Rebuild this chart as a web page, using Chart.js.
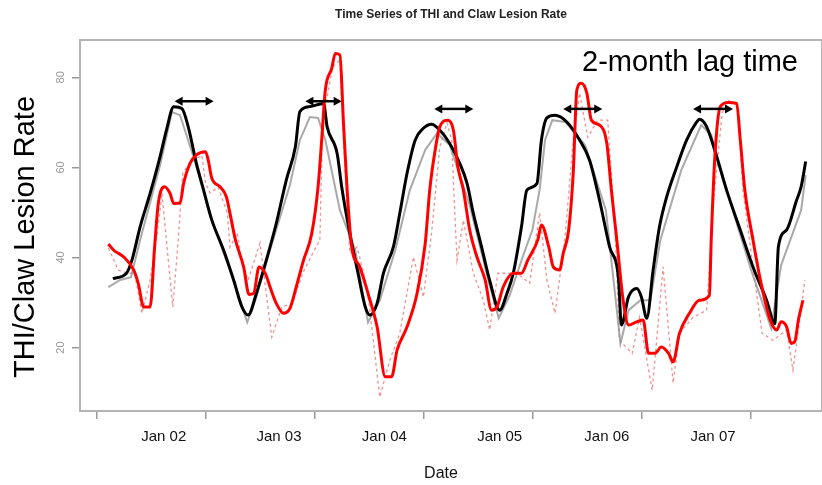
<!DOCTYPE html>
<html>
<head>
<meta charset="utf-8">
<script src="https://cdn.jsdelivr.net/npm/chart.js@4.4.1/dist/chart.umd.min.js"></script>
<style>
html,body{margin:0;padding:0;background:#fff;}
#wrap{width:822px;height:485px;}
</style>
</head>
<body>
<div id="wrap"><canvas id="graf-thi" width="822" height="485"></canvas></div>
<script>
// eixo x em meses (0 = primeira marca do eixo)
var ticksMeses = [0, 12, 24, 36, 48, 60, 72]
var posRotulos = [7.4, 20.1, 31.7, 44.4, 56.2, 67.9]
var rotulosDatas = ['Jan 02', 'Jan 03', 'Jan 04', 'Jan 05', 'Jan 06', 'Jan 07']
var ticksY = [20, 40, 60, 80]

// THI suavizado (linha preta)
var mesesTHI = [
    1.8, 3.3, 3.9, 4.8, 5.9, 7.0, 7.7, 8.5, 9.4, 10.1,
    11.0, 11.8, 12.7, 14.0, 15.1, 16.0, 16.7, 17.6, 18.7, 19.8,
    20.9, 21.9, 22.4, 23.5, 25.0, 25.4, 26.5, 27.0, 27.9, 28.8,
    29.6, 30.1, 30.9, 31.6, 32.7, 33.4, 34.2, 35.1, 36.0, 36.9,
    37.8, 38.9, 40.0, 40.8, 41.5, 42.4, 43.3, 44.4, 45.2, 45.9,
    46.8, 47.4, 48.5, 49.0, 49.6, 50.5, 51.8, 53.2, 54.3, 55.4,
    56.5, 57.5, 57.8, 58.6, 59.5, 60.0, 60.6, 61.3, 62.0, 62.8,
    63.9, 65.0, 66.1, 66.4, 67.2, 68.3, 69.4, 70.9, 72.3, 73.8,
    74.7, 75.1, 76.0, 77.1, 77.6, 78.1
]
var thiSuavizado = [
    35.3, 36.5, 39.4, 46.8, 54.2, 62.4, 68.3, 73.5, 73.1, 69.0,
    60.9, 54.9, 48.3, 41.6, 35.0, 29.1, 27.2, 32.0, 39.4, 47.6,
    57.2, 64.6, 72.4, 73.5, 74.2, 69.0, 63.1, 55.7, 45.3, 36.5,
    29.0, 27.2, 29.8, 36.5, 42.4, 49.8, 58.7, 66.1, 68.7, 69.6,
    68.3, 65.3, 60.9, 56.5, 49.8, 42.4, 34.9, 28.3, 32.0, 36.5,
    46.8, 55.0, 56.4, 66.1, 71.0, 71.6, 70.1, 66.1, 61.6, 52.7,
    42.4, 35.0, 25.0, 31.3, 33.1, 31.3, 26.5, 37.2, 46.8, 53.5,
    60.1, 66.1, 70.1, 70.7, 69.0, 62.4, 54.9, 46.1, 37.9, 30.5,
    25.3, 42.4, 46.1, 52.7, 55.7, 61.3
]

// THI bruto (linha cinza)
var mesesCinza = [
    1.3, 2.6, 3.8, 4.8, 7.0, 8.3, 9.2, 10.8, 12.5, 14.7,
    16.6, 17.5, 19.1, 21.3, 22.4, 23.5, 24.4, 25.2, 26.8, 28.5,
    29.9, 31.2, 32.9, 34.5, 36.2, 37.5, 38.9, 41.1, 43.3, 44.3,
    45.5, 47.0, 48.0, 48.8, 49.4, 50.2, 51.6, 53.8, 56.1, 57.7,
    58.6, 59.9, 61.0, 62.1, 64.4, 66.6, 67.7, 69.9, 72.1, 74.3,
    75.4, 77.6, 78.1
]
var thiBruto = [
    33.4, 35.0, 35.6, 43.9, 60.5, 72.3, 71.6, 61.6, 49.4, 37.2,
    25.6, 30.5, 41.6, 56.1, 66.1, 71.2, 71.0, 66.1, 50.5, 41.6,
    25.6, 30.5, 41.6, 54.9, 63.9, 67.6, 65.0, 51.6, 33.8, 26.5,
    31.6, 40.5, 46.1, 55.0, 66.1, 70.5, 70.1, 65.0, 50.5, 20.9,
    28.3, 30.5, 30.5, 43.9, 59.4, 69.4, 67.2, 51.6, 37.2, 24.3,
    38.3, 50.5, 58.3
]

// taxa de lesao de casco suavizada (linha vermelha)
var mesesLesao = [
    1.3, 1.9, 3.0, 4.1, 4.6, 5.2, 5.9, 6.4, 6.8, 7.5,
    8.1, 8.5, 9.2, 9.6, 10.3, 11.0, 12.0, 12.3, 12.7, 13.6,
    14.3, 14.7, 15.3, 16.2, 16.8, 17.3, 17.9, 18.6, 19.1, 19.8,
    20.6, 21.3, 22.0, 22.8, 23.7, 24.4, 24.8, 25.2, 25.9, 26.3,
    26.8, 27.2, 27.6, 28.1, 29.0, 29.9, 30.9, 31.8, 32.5, 33.1,
    34.2, 35.3, 36.2, 36.7, 37.3, 37.8, 38.7, 39.3, 39.8, 40.4,
    41.1, 41.9, 42.8, 43.5, 44.1, 44.8, 45.9, 46.8, 47.5, 48.6,
    49.0, 49.8, 50.3, 51.0, 51.4, 52.0, 52.5, 52.9, 53.4, 54.0,
    54.5, 55.4, 56.2, 56.7, 57.3, 58.0, 58.6, 59.5, 60.2, 60.8,
    61.5, 62.2, 63.0, 63.5, 64.2, 65.3, 66.4, 67.5, 67.7, 68.1,
    68.7, 69.6, 70.5, 70.9, 71.4, 72.3, 73.2, 74.2, 74.9, 75.4,
    76.0, 76.5, 76.9, 77.3, 77.8
]
var lesaoSuavizada = [
    43.0, 41.6, 40.1, 37.2, 34.2, 29.0, 29.0, 42.4, 52.0, 55.7,
    54.2, 52.0, 52.1, 56.5, 60.9, 62.8, 63.5, 61.6, 57.6, 55.7,
    53.5, 49.8, 43.9, 37.9, 31.8, 32.0, 37.9, 36.4, 33.5, 29.8,
    27.6, 28.7, 33.5, 39.4, 45.3, 55.7, 66.1, 77.2, 82.0, 85.3,
    85.0, 69.8, 55.0, 42.4, 37.9, 32.0, 24.6, 13.5, 13.5, 19.4,
    24.6, 32.0, 43.1, 55.0, 63.9, 69.0, 70.5, 68.3, 60.1, 55.0,
    46.1, 40.1, 35.0, 28.3, 29.0, 33.5, 36.5, 36.5, 39.4, 43.9,
    47.2, 42.4, 37.9, 37.2, 40.9, 46.1, 58.7, 77.2, 78.7, 76.5,
    70.5, 69.4, 65.3, 55.0, 43.9, 30.5, 25.0, 25.7, 26.1, 18.7,
    18.7, 20.1, 18.7, 16.8, 23.1, 27.6, 30.5, 31.6, 43.9, 62.4,
    73.5, 74.4, 74.2, 66.1, 55.0, 43.9, 34.2, 26.1, 23.9, 25.7,
    24.6, 20.9, 21.3, 26.1, 30.5
]

// taxa de lesao bruta (pontilhada)
var mesesBruto = [
    1.3, 2.4, 3.4, 4.2, 5.0, 5.9, 6.7, 7.2, 8.4, 9.0,
    9.5, 10.3, 11.6, 12.0, 12.5, 13.4, 14.4, 14.7, 15.5, 16.1,
    16.7, 18.0, 19.3, 20.4, 21.6, 22.7, 23.8, 24.6, 24.9, 26.0,
    26.8, 27.4, 27.9, 28.7, 29.8, 31.2, 32.3, 33.4, 34.9, 36.0,
    36.9, 37.8, 38.6, 39.1, 39.7, 40.4, 41.5, 42.6, 43.3, 44.2,
    45.2, 46.3, 47.7, 48.8, 49.6, 50.5, 51.6, 52.5, 53.2, 54.1,
    55.2, 56.3, 57.1, 57.6, 59.0, 59.8, 61.2, 62.4, 63.5, 64.2,
    65.7, 67.2, 67.9, 68.9, 69.7, 70.6, 71.2, 72.3, 73.3, 74.5,
    76.0, 76.7, 77.4, 78.0
]
var lesaoBruta = [
    42.1, 37.2, 36.5, 36.5, 27.6, 35.0, 45.4, 54.3, 29.0, 43.9,
    58.8, 61.0, 62.7, 56.5, 54.3, 55.6, 49.9, 42.3, 45.4, 37.9,
    35.0, 43.2, 22.3, 29.0, 29.9, 36.5, 40.9, 43.9, 69.9, 82.3,
    83.9, 58.8, 41.0, 42.3, 33.4, 9.0, 17.2, 23.2, 40.1, 31.2,
    45.4, 64.5, 69.9, 66.1, 39.4, 48.3, 36.5, 30.5, 23.9, 36.5,
    36.5, 36.5, 34.3, 49.9, 35.0, 27.6, 44.5, 66.1, 76.5, 66.7,
    70.5, 70.5, 46.7, 21.6, 18.7, 26.7, 10.5, 37.9, 12.1, 23.2,
    26.7, 28.3, 51.2, 72.1, 75.0, 73.4, 54.9, 37.9, 23.2, 21.6,
    23.9, 15.0, 25.4, 35.0
]

// setas de defasagem (inicio, fim e altura)
var setaInicio = [8.6, 23.0, 37.2, 51.4, 65.7]
var setaFim = [12.9, 27.0, 41.5, 55.7, 70.1]
var setaNivel = [74.7, 74.7, 73.0, 73.0, 73.0]

var fonte = "'Liberation Sans', Arial, sans-serif"
Chart.defaults.font.family = fonte

function montaPontos(xs, ys){
    var pontos = []
    xs.forEach(function(val, num){
        pontos.push({x: val, y: ys[num]})
    })
    return pontos
}

// desenha moldura, setas e textos avulsos
var pluginExtras = {
    id: 'extras',
    beforeDatasetsDraw: function(chart){
        var ctx = chart.ctx
        var area = chart.chartArea
        ctx.save()
        ctx.strokeStyle = '#b4b4b4'
        ctx.lineWidth = 2
        ctx.strokeRect(area.left, area.top, area.right - area.left, area.bottom - area.top)
        ctx.restore()
    },
    afterDatasetsDraw: function(chart){
        var ctx = chart.ctx
        var sx = chart.scales.x
        var sy = chart.scales.y

        // setas duplas
        ctx.save()
        ctx.strokeStyle = '#000'
        ctx.fillStyle = '#000'
        ctx.lineWidth = 2.5
        setaInicio.forEach(function(val, num){
            var x1 = sx.getPixelForValue(val)
            var x2 = sx.getPixelForValue(setaFim[num])
            var y = sy.getPixelForValue(setaNivel[num])
            var cab = 8
            ctx.beginPath()
            ctx.moveTo(x1 + cab - 1, y)
            ctx.lineTo(x2 - cab + 1, y)
            ctx.stroke()
            ctx.beginPath()
            ctx.moveTo(x1, y)
            ctx.lineTo(x1 + cab, y - 4.5)
            ctx.lineTo(x1 + cab, y + 4.5)
            ctx.closePath()
            ctx.fill()
            ctx.beginPath()
            ctx.moveTo(x2, y)
            ctx.lineTo(x2 - cab, y - 4.5)
            ctx.lineTo(x2 - cab, y + 4.5)
            ctx.closePath()
            ctx.fill()
        })
        ctx.restore()

        // rotulos do eixo y (girados, estilo R)
        ctx.save()
        ctx.fillStyle = '#999'
        ctx.font = '11px ' + fonte
        ctx.textAlign = 'center'
        ctx.textBaseline = 'middle'
        ticksY.forEach(function(val){
            ctx.save()
            ctx.translate(61, sy.getPixelForValue(val))
            ctx.rotate(-Math.PI / 2)
            ctx.fillText(String(val), 0, 0)
            ctx.restore()
        })
        ctx.restore()

        // titulo do eixo y
        ctx.save()
        ctx.fillStyle = '#000'
        ctx.font = '29px ' + fonte
        ctx.textAlign = 'center'
        ctx.textBaseline = 'middle'
        ctx.translate(26, 237)
        ctx.rotate(-Math.PI / 2)
        ctx.fillText('THI/Claw Lesion Rate', 0, 0)
        ctx.restore()

        // titulo do eixo x
        ctx.save()
        ctx.fillStyle = '#111'
        ctx.font = '16px ' + fonte
        ctx.textAlign = 'center'
        ctx.textBaseline = 'middle'
        ctx.fillText('Date', 441, 474)
        ctx.restore()

        // anotacao
        ctx.save()
        ctx.fillStyle = '#000'
        ctx.font = '29px ' + fonte
        ctx.textAlign = 'left'
        ctx.textBaseline = 'alphabetic'
        ctx.fillText('2-month lag time', 582, 71)
        ctx.restore()
    }
}

function gerarGrafico(){
    try{
        new Chart(
            document.getElementById('graf-thi').getContext('2d'),
            {
                type: 'line',
                data: {
                    datasets: [
                        {
                            label: 'Claw Lesion Rate',
                            data: montaPontos(mesesLesao, lesaoSuavizada),
                            borderColor: '#ff0000',
                            borderWidth: 3,
                            pointRadius: 0,
                            cubicInterpolationMode: 'monotone',
                            order: 0
                        },
                        {
                            label: 'THI',
                            data: montaPontos(mesesTHI, thiSuavizado),
                            borderColor: '#000000',
                            borderWidth: 3,
                            pointRadius: 0,
                            cubicInterpolationMode: 'monotone',
                            order: 1
                        },
                        {
                            label: 'THI raw',
                            data: montaPontos(mesesCinza, thiBruto),
                            borderColor: 'rgba(140,140,140,0.75)',
                            borderWidth: 2,
                            pointRadius: 0,
                            tension: 0,
                            order: 2
                        },
                        {
                            label: 'Claw Lesion raw',
                            data: montaPontos(mesesBruto, lesaoBruta),
                            borderColor: 'rgba(235,110,110,0.75)',
                            borderWidth: 1.3,
                            borderDash: [3, 3],
                            pointRadius: 0,
                            tension: 0,
                            order: 3
                        }
                    ]
                },
                options: {
                    responsive: false,
                    animation: false,
                    layout: { padding: 0 },
                    plugins: {
                        legend: { display: false },
                        tooltip: { enabled: false },
                        title: {
                            display: true,
                            fullSize: false,
                            text: 'Time Series of THI and Claw Lesion Rate',
                            color: '#222',
                            font: { size: 12, weight: 'bold' },
                            padding: { top: 7, bottom: 18.6 }
                        }
                    },
                    scales: {
                        x: {
                            type: 'linear',
                            position: 'bottom',
                            weight: 0,
                            min: -1.82,
                            max: 79.9,
                            afterBuildTicks: function(scale){
                                scale.ticks = ticksMeses.map(function(v){ return {value: v} })
                            },
                            afterFit: function(scale){ scale.height = 9 },
                            ticks: { display: false },
                            border: { display: false },
                            grid: {
                                drawOnChartArea: false,
                                drawTicks: true,
                                tickLength: 8,
                                color: '#999',
                                lineWidth: 1.5
                            }
                        },
                        xl: {
                            type: 'linear',
                            position: 'bottom',
                            weight: 1,
                            min: -1.82,
                            max: 79.9,
                            afterBuildTicks: function(scale){
                                scale.ticks = posRotulos.map(function(v){ return {value: v} })
                            },
                            afterFit: function(scale){ scale.height = 65 },
                            ticks: {
                                autoSkip: false,
                                maxRotation: 0,
                                padding: 8,
                                color: '#111',
                                font: { size: 15 },
                                callback: function(val, num){ return rotulosDatas[num] }
                            },
                            border: { display: false },
                            grid: { display: false, drawTicks: false }
                        },
                        y: {
                            type: 'linear',
                            min: 5.9,
                            max: 88.3,
                            afterBuildTicks: function(scale){
                                scale.ticks = ticksY.map(function(v){ return {value: v} })
                            },
                            afterFit: function(scale){ scale.width = 80 },
                            ticks: { display: false },
                            border: { display: false },
                            grid: {
                                drawOnChartArea: false,
                                drawTicks: true,
                                tickLength: 8,
                                color: '#999',
                                lineWidth: 1.5
                            }
                        }
                    }
                },
                plugins: [pluginExtras]
            }
        )
    }catch(e){console.error(e)}
}

gerarGrafico()
</script>
</body>
</html>
